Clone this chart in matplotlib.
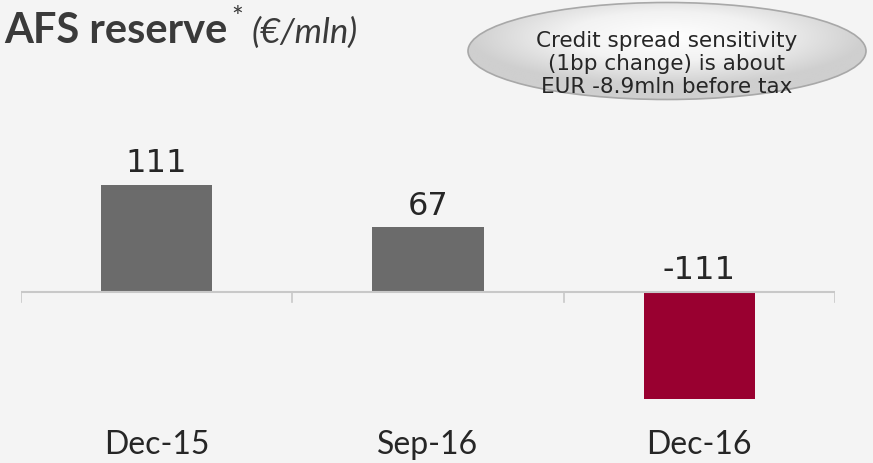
"""AFS reserve bar chart (EUR mln)."""

import numpy as np
import matplotlib
matplotlib.use("Agg")
import matplotlib.pyplot as plt
from matplotlib.patches import Ellipse
from matplotlib.colors import LinearSegmentedColormap

# ── Data ─────────────────────────────────────────────────────────────────────
PERIODS = ["Dec-15", "Sep-16", "Dec-16"]
AFS_RESERVE = [111, 67, -111]
NOTE_LINES = ["Credit spread sensitivity", "(1bp change) is about", "EUR -8.9mln before tax"]

BG = "#f4f4f4"
GRAY_BAR = "#6b6b6b"
RED_BAR = "#990030"
AXIS = "#c8c8c8"
TEXT = "#262626"
TITLE = "#3a3a3a"


def main():
    fig = plt.figure(figsize=(8.73, 4.63), dpi=100, facecolor=BG)
    ax = fig.add_axes([21 / 873, 1 - 410 / 463, 814 / 873, 280 / 463])
    ax.set_facecolor(BG)

    x = np.arange(len(PERIODS))
    colors = [GRAY_BAR if v >= 0 else RED_BAR for v in AFS_RESERVE]
    ax.bar(x, AFS_RESERVE, width=0.41, color=colors, zorder=2)

    for xi, v in zip(x, AFS_RESERVE):
        ax.annotate(f"{v}", (xi, max(v, 0)), xytext=(0, 9), textcoords="offset points",
                    ha="center", va="baseline", fontsize=23, color=TEXT, family="DejaVu Sans")

    ax.set_xlim(-0.5, 2.5)
    ax.set_ylim(-122.3, 167.9)
    ax.axhline(0, color=AXIS, linewidth=1.5, zorder=3)
    for b in [-0.5, 0.5, 1.5, 2.5]:
        ax.plot([b, b], [0, -10], color=AXIS, linewidth=1.2, zorder=3)

    for s in ax.spines.values():
        s.set_visible(False)
    ax.set_yticks([])
    ax.set_xticks([])
    for xi, lab in zip(x, PERIODS):
        ax.text(xi, -159, lab, ha="center", va="center", fontsize=23, color=TEXT,
                family="Lato", clip_on=False)

    # Title
    fig.text(4 / 873, 1 - 43 / 463, "AFS reserve", fontsize=30, fontweight="bold",
             color=TITLE, family="Lato", va="baseline", ha="left")
    fig.text(231 / 873, 1 - 19 / 463, "*", fontsize=20, color=TITLE,
             family="Lato", va="center", ha="left")
    fig.text(252 / 873, 1 - 43 / 463, "(€/mln)", fontsize=25, style="italic",
             color=TITLE, family="Lato", va="baseline", ha="left")

    # Callout bubble
    bax = fig.add_axes([0, 0, 1, 1], facecolor="none")
    bax.set_xlim(0, 873)
    bax.set_ylim(463, 0)
    bax.axis("off")
    ell = Ellipse((667, 51), 398, 97, facecolor="none", edgecolor="#a8a8a8", linewidth=1.2, zorder=3)
    bax.add_patch(ell)
    yy, xx = np.mgrid[-1:1:200j, -1:1:400j]
    shade = np.clip(np.sqrt(xx ** 2 + (yy + 0.3) ** 2), 0, 1)
    cmap = LinearSegmentedColormap.from_list("g", ["#ffffff", "#f2f2f2", "#cfcfcf"])
    img = bax.imshow(shade, extent=[468, 866, 100, 2], cmap=cmap, aspect="auto", zorder=2)
    img.set_clip_path(ell)
    for i, line in enumerate(NOTE_LINES):
        bax.text(667, 41 + i * 23, line, ha="center", va="center", fontsize=15.5,
                 color=TEXT, family="DejaVu Sans", zorder=4)

    fig.savefig("out.png", dpi=100, facecolor=BG)
    plt.close(fig)


if __name__ == "__main__":
    main()
